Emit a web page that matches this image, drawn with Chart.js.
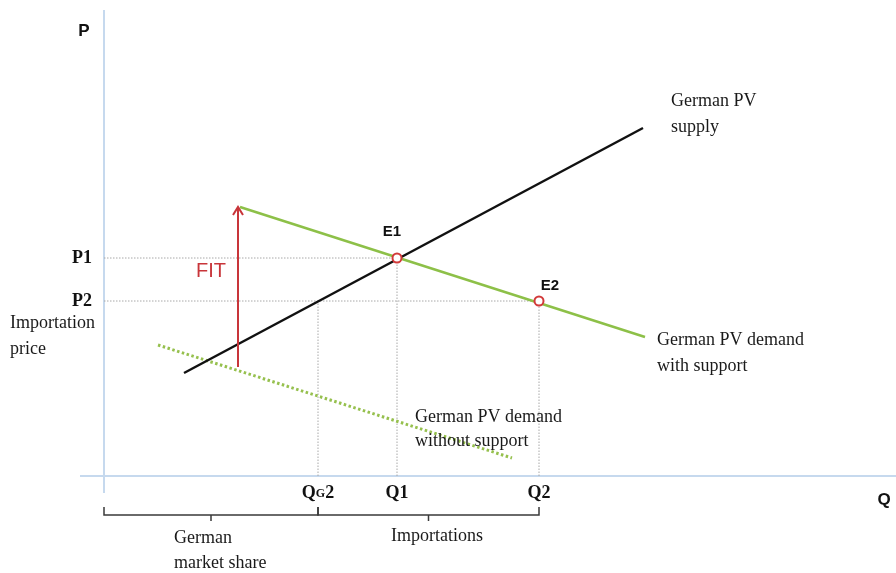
<!DOCTYPE html>
<html>
<head>
<meta charset="utf-8">
<script src="https://cdn.jsdelivr.net/npm/chart.js@4.4.1/dist/chart.umd.min.js"></script>
<style>
  html, body { margin: 0; padding: 0; background: #fff; }
  #wrap { width: 896px; height: 573px; position: relative; }
</style>
</head>
<body>
<div id="wrap"><canvas id="myChart"></canvas></div>
<script>
// quantities (Q) and prices (P), origin at the axes crossing
const qTickLabels = ['QG2', 'Q1', 'Q2'];
const qTickValues = [214, 293, 435];
const qGuideTop = [175, 218, 175];      // price where each vertical guide stops
const pTickLabels = ['P1', 'P2'];
const pTickValues = [218, 175];
const pGuideEnd = [293, 435];           // quantity where each horizontal guide stops

const supplyQ = [80, 539];
const supplyP = [103, 348];
const demandSupportQ = [136, 541];
const demandSupportP = [269, 139];
const demandNoSupportQ = [54, 408];
const demandNoSupportP = [131, 18];
const fitQ = [134, 134];
const fitP = [109, 269];
const eqNames = ['E1', 'E2'];
const eqQ = [293, 435];
const eqP = [218, 175];

const axisQ = [-24, 792];
const axisP = [-17, 466];

const toPts = (qs, ps) => qs.map((q, i) => ({ x: q, y: ps[i] }));

const guideColor = '#a8a8a8';
const datasets = [];

// axes
datasets.push({ data: [{ x: 0, y: axisP[0] }, { x: 0, y: axisP[1] }], borderColor: '#c6d9ee', borderWidth: 2, order: 10 });
datasets.push({ data: [{ x: axisQ[0], y: 0 }, { x: axisQ[1], y: 0 }], borderColor: '#c6d9ee', borderWidth: 2, order: 9 });

// dotted guides
pTickValues.forEach((p, i) => {
    datasets.push({ data: [{ x: 0, y: p }, { x: pGuideEnd[i], y: p }], borderColor: guideColor, borderWidth: 1, borderDash: [1.5, 1.5], order: 8 });
});
qTickValues.forEach((q, i) => {
    datasets.push({ data: [{ x: q, y: 0 }, { x: q, y: qGuideTop[i] }], borderColor: guideColor, borderWidth: 1, borderDash: [1.5, 1.5], order: 8 });
});

datasets.push({ label: 'German PV demand without support', data: toPts(demandNoSupportQ, demandNoSupportP), borderColor: '#96c04e', borderWidth: 3, borderDash: [2.5, 2.5], order: 6 });
datasets.push({ label: 'German PV supply', data: toPts(supplyQ, supplyP), borderColor: '#111', borderWidth: 2.5, order: 5 });
datasets.push({ label: 'German PV demand with support', data: toPts(demandSupportQ, demandSupportP), borderColor: '#8dc048', borderWidth: 2.5, order: 4 });
datasets.push({ label: 'FIT', data: toPts(fitQ, fitP), borderColor: '#c8353a', borderWidth: 2, order: 3 });
datasets.push({
    label: 'Equilibria', data: toPts(eqQ, eqP), showLine: false,
    pointRadius: 4.5, pointBorderWidth: 2, pointBorderColor: '#d23a3a', pointBackgroundColor: '#fff', order: 1
});

const annotations = {
    id: 'annotations',
    afterDatasetsDraw(chart) {
        const ctx = chart.ctx;
        const xs = chart.scales.x, ys = chart.scales.y;
        const px = v => xs.getPixelForValue(v);
        const py = v => ys.getPixelForValue(v);
        ctx.save();
        ctx.textBaseline = 'middle';

        // FIT arrowhead
        const ax = px(fitQ[1]), ay = py(fitP[1]);
        ctx.strokeStyle = '#c8353a';
        ctx.lineWidth = 2;
        ctx.beginPath();
        ctx.moveTo(ax - 5, ay + 8);
        ctx.lineTo(ax, ay);
        ctx.lineTo(ax + 5, ay + 8);
        ctx.stroke();

        // axis names
        ctx.fillStyle = '#111';
        ctx.font = 'bold 17px "Liberation Sans", Arial, sans-serif';
        ctx.textAlign = 'center';
        ctx.fillText('P', px(0) - 20, 31);
        ctx.fillText('Q', 884, py(0) + 24);

        // price ticks
        ctx.font = 'bold 18px "Liberation Serif", serif';
        ctx.textAlign = 'right';
        pTickLabels.forEach((t, i) => ctx.fillText(t, px(0) - 12, py(pTickValues[i])));

        // quantity ticks
        ctx.textAlign = 'left';
        qTickLabels.forEach((t, i) => {
            const cx = px(qTickValues[i]), cy = py(0) + 17;
            if (t === 'QG2') {
                const big = 'bold 18px "Liberation Serif", serif';
                const small = 'bold 12px "Liberation Serif", serif';
                ctx.font = big; const wq = ctx.measureText('Q').width; const w2 = ctx.measureText('2').width;
                ctx.font = small; const wg = ctx.measureText('G').width;
                let x0 = cx - (wq + wg + w2) / 2;
                ctx.font = big; ctx.fillText('Q', x0, cy);
                ctx.font = small; ctx.fillText('G', x0 + wq, cy + 1);
                ctx.font = big; ctx.fillText('2', x0 + wq + wg, cy);
            } else {
                ctx.font = 'bold 18px "Liberation Serif", serif';
                const w = ctx.measureText(t).width;
                ctx.fillText(t, cx - w / 2, cy);
            }
        });

        // equilibrium names
        ctx.font = 'bold 15px "Liberation Sans", Arial, sans-serif';
        ctx.textAlign = 'center';
        const eqOff = [[-5, -26], [11, -15]];
        eqNames.forEach((n, i) => ctx.fillText(n, px(eqQ[i]) + eqOff[i][0], py(eqP[i]) + eqOff[i][1]));

        // FIT label
        ctx.fillStyle = '#c8353a';
        ctx.font = '20px "Liberation Sans", Arial, sans-serif';
        ctx.textAlign = 'left';
        ctx.fillText('FIT', 196, 271);

        // serif labels
        ctx.fillStyle = '#1a1a1a';
        ctx.font = '18px "Liberation Serif", "Times New Roman", serif';
        const lines = [
            ['Importation', 10, 323], ['price', 10, 349],
            ['German PV', 671, 101], ['supply', 671, 127],
            ['German PV demand', 657, 340], ['with support', 657, 366],
            ['German PV demand', 415, 417], ['without support', 415, 441],
            ['German', 174, 538], ['market share', 174, 563]
        ];
        lines.forEach(l => ctx.fillText(l[0], l[1], l[2]));
        ctx.textAlign = 'center';
        ctx.fillText('Importations', 437, 536);

        // brackets under the axis
        const by = py(0) + 39;
        ctx.strokeStyle = '#3a3a3a';
        ctx.lineWidth = 1.5;
        const bracket = (a, b) => {
            const xa = px(a), xb = px(b), xm = (xa + xb) / 2;
            ctx.beginPath();
            ctx.moveTo(xa, by - 8); ctx.lineTo(xa, by); ctx.lineTo(xb, by); ctx.lineTo(xb, by - 8);
            ctx.moveTo(xm, by); ctx.lineTo(xm, by + 6);
            ctx.stroke();
        };
        bracket(0, qTickValues[0]);
        bracket(qTickValues[0], qTickValues[2]);
        ctx.restore();
    }
};

const ctx = document.getElementById('myChart').getContext('2d');
const myChart = new Chart(ctx, {
    type: 'scatter',
    data: { datasets: datasets.map(d => Object.assign({ showLine: true, pointRadius: 0, fill: false }, d)) },
    options: {
        responsive: true,
        maintainAspectRatio: false,
        animation: false,
        layout: { padding: 0, autoPadding: false },
        scales: {
            x: { type: 'linear', display: false, min: -104, max: 792 },
            y: { type: 'linear', display: false, min: -97, max: 476 }
        },
        plugins: { legend: { display: false }, tooltip: { enabled: false } }
    },
    plugins: [annotations]
});
</script>
</body>
</html>
